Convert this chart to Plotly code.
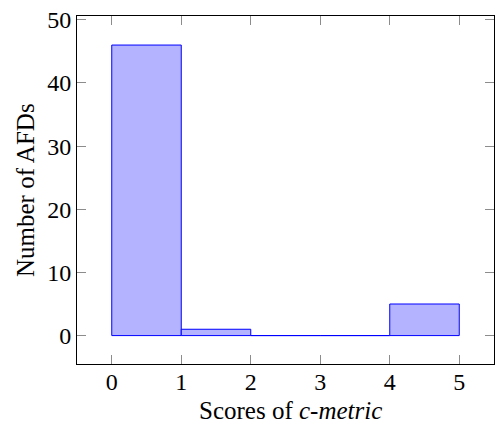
import plotly.graph_objects as go

bin_left = [0, 1, 2, 3, 4]
counts = [46, 1, 0, 0, 5]
x_ticks = [0, 1, 2, 3, 4, 5]
y_ticks = [0, 10, 20, 30, 40, 50]

centers = [b + 0.5 for b in bin_left]

font = "Liberation Serif"
W, H = 495, 423
L, R, T, B = 77, 1, 16, 59

fig = go.Figure()
fig.add_trace(go.Bar(
    x=centers, y=counts, width=[1] * len(counts),
    marker=dict(color="rgb(179,179,255)", line=dict(color="rgb(0,0,255)", width=1)),
    hoverinfo="skip",
))

plot_h = H - T - B
plot_w = W - L - R
fig.update_layout(
    width=W, height=H,
    margin=dict(l=L, r=R, t=T, b=B),
    paper_bgcolor="white", plot_bgcolor="white",
    showlegend=False,
    font=dict(family=font, size=20, color="black"),
    xaxis=dict(
        range=[-0.5, 5.5], tickvals=x_ticks, ticks="inside", ticklen=9,
        tickcolor="rgb(140,140,140)", tickwidth=1,
        showline=True, linecolor="black", linewidth=1, mirror="ticks",
        showgrid=False, zeroline=False, automargin=False,
        tickfont=dict(family=font, size=24), ticklabelstandoff=-4,
    ),
    yaxis=dict(
        range=[-4.5, 50.6], tickvals=y_ticks, ticks="inside", ticklen=9,
        tickcolor="rgb(140,140,140)", tickwidth=1,
        showline=True, linecolor="black", linewidth=1, mirror="ticks",
        showgrid=False, zeroline=False, automargin=False,
        tickfont=dict(family=font, size=24),
    ),
    annotations=[
        dict(text="Scores of <i>c-metric</i>", xref="paper", yref="paper",
             x=(290 - L) / plot_w, y=-(410 - (H - B)) / plot_h,
             xanchor="center", yanchor="middle",
             showarrow=False, font=dict(family=font, size=25)),
        dict(text="Number of AFDs", xref="paper", yref="paper",
             x=-(L - 25) / plot_w, y=0.5, xanchor="center", yanchor="middle",
             textangle=-90, showarrow=False, font=dict(family=font, size=25)),
    ],
)

fig.write_html(
    "out.html",
    config={"displayModeBar": False},
    post_script="document.body.style.margin='0';document.body.style.overflow='hidden';",
)
